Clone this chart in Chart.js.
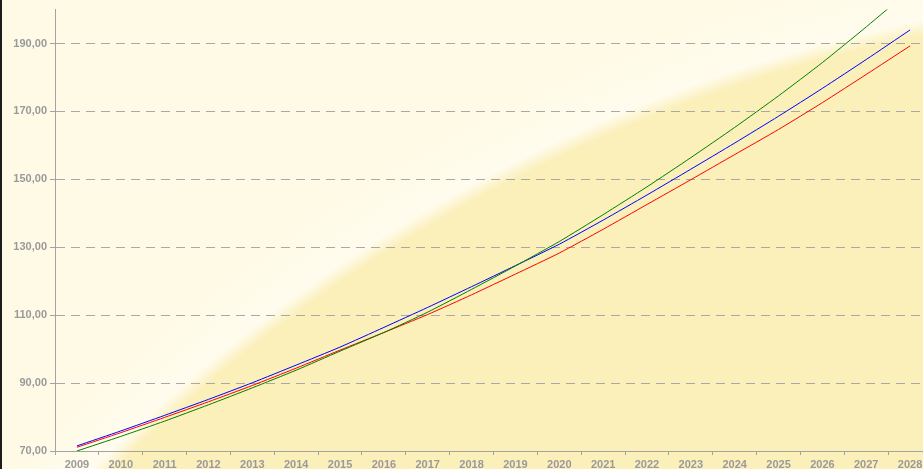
<!DOCTYPE html>
<html>
<head>
<meta charset="utf-8">
<script src="https://cdn.jsdelivr.net/npm/chart.js@4"></script>
<style>
  html, body { margin: 0; padding: 0; background: #fefae6; overflow: hidden; }
  #wrap { position: relative; width: 923px; height: 469px; overflow: hidden; }
  #edge { position: absolute; left: 0; top: 0; width: 2px; height: 469px; background: #1c1c1c; }
  canvas { position: absolute; left: 0; top: 0; }
</style>
</head>
<body>
<div id="wrap">
  <canvas id="chart" width="945" height="469" style="width:945px;height:469px"></canvas>
  <div id="edge"></div>
</div>
<script>
const years = ['2009', '2010', '2011', '2012', '2013', '2014', '2015', '2016', '2017', '2018',
  '2019', '2020', '2021', '2022', '2023', '2024', '2025', '2026', '2027', '2028'];

const serieAzul = [71.5, 75.9, 80.5, 85.2, 90.1, 95.3, 100.6, 106.4, 112.3, 118.4,
  124.6, 130.9, 138.0, 145.4, 153.0, 160.7, 168.6, 176.8, 185.3, 194.0];
const serieRoja = [71.1, 75.4, 79.9, 84.5, 89.3, 94.4, 99.7, 104.9, 110.2, 116.0,
  122.1, 128.3, 135.3, 142.6, 149.9, 157.3, 164.7, 172.6, 180.9, 189.3];
const serieVerde = [70.0, 74.3, 78.8, 83.6, 88.6, 93.8, 99.4, 104.9, 110.9, 117.6,
  124.5, 131.7, 139.6, 147.8, 156.4, 165.3, 174.6, 184.4, 194.9, 205.8];

const yTicks = [70, 90, 110, 130, 150, 170, 190];

// soft yellow blob behind everything
const fondo = {
  id: 'fondo',
  beforeDraw(chart) {
    const ctx = chart.ctx;
    const cx = 1247, cy = 1610, r = 1617;
    ctx.save();
    const g = ctx.createRadialGradient(cx, cy, 0, cx, cy, r + 60);
    g.addColorStop(0, '#fbefba');
    g.addColorStop((r - 10) / (r + 60), '#fbefba');
    g.addColorStop((r + 6) / (r + 60), '#fffcee');
    g.addColorStop(1, '#fefae6');
    ctx.fillStyle = g;
    ctx.fillRect(0, 0, chart.width, chart.height);
    ctx.restore();
  }
};

const linea = (label, data, color) => ({
  label,
  data,
  borderColor: color,
  backgroundColor: color,
  borderWidth: 1,
  pointRadius: 0,
  tension: 0.2,
  fill: false
});

new Chart(document.getElementById('chart').getContext('2d'), {
  type: 'line',
  data: {
    labels: years,
    datasets: [
      linea('Serie verde', serieVerde, '#008000'),
      linea('Serie roja', serieRoja, '#ff0000'),
      linea('Serie azul', serieAzul, '#0000ff')
    ]
  },
  options: {
    responsive: false,
    animation: false,
    layout: { padding: { top: 7, right: 13, left: 0, bottom: 0 } },
    plugins: {
      legend: { display: false },
      tooltip: { enabled: false }
    },
    scales: {
      x: {
        offset: true,
        afterFit: s => { s.height = 18; },
        grid: {
          offset: true,
          drawOnChartArea: false,
          drawTicks: true,
          tickLength: 4,
          color: '#a3a3a3'
        },
        border: { display: true, color: '#a3a3a3', width: 1 },
        ticks: {
          color: '#9a9a9a',
          padding: 3,
          maxRotation: 0,
          autoSkip: false,
          font: { family: 'Liberation Sans', size: 11, weight: 'bold' }
        }
      },
      y: {
        min: 70,
        max: 200,
        afterFit: s => { s.width = 55; },
        afterBuildTicks: s => { s.ticks = yTicks.map(v => ({ value: v })); },
        grid: {
          color: '#a8a8a8',
          lineWidth: 1,
          tickLength: 5,
          tickColor: '#a3a3a3'
        },
        border: { display: true, color: '#a3a3a3', width: 1, dash: [9, 6] },
        ticks: {
          color: '#9a9a9a',
          padding: 3,
          font: { family: 'Liberation Sans', size: 11, weight: 'bold' },
          callback: v => v.toFixed(2).replace('.', ',')
        }
      }
    }
  },
  plugins: [fondo]
});
</script>
</body>
</html>
